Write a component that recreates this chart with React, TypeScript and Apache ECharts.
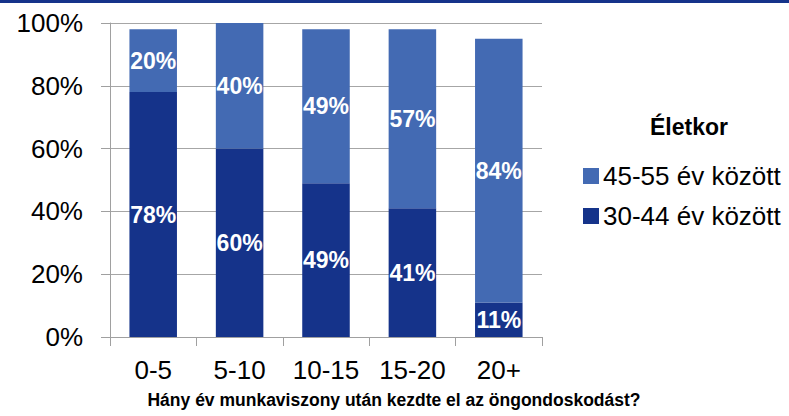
import React, { useEffect, useRef } from "react";
import * as echarts from "echarts";

const categories = ["0-5", "5-10", "10-15", "15-20", "20+"];
const seriesYoung = [78, 60, 49, 41, 11];
const seriesOld = [20, 40, 49, 57, 84];
const yTicks = [0, 20, 40, 60, 80, 100];
const legendTitle = "Életkor";
const nameYoung = "30-44 év között";
const nameOld = "45-55 év között";
const xTitle = "Hány év munkaviszony után kezdte el az öngondoskodást?";

const FONT = "'Liberation Sans', Arial, sans-serif";
const DARK = "#15338a";
const LIGHT = "#436ab3";

export default function App() {
  const ref = useRef<HTMLDivElement>(null);
  useEffect(() => {
    if (!ref.current) return;
    const chart = echarts.init(ref.current, null, { renderer: "svg" });
    const labelStyle = {
      show: true,
      position: "inside" as const,
      color: "#ffffff",
      fontFamily: FONT,
      fontWeight: "bold" as const,
      fontSize: 23,
      formatter: (p: any) => p.value + "%",
    };
    chart.setOption({
      animation: false,
      backgroundColor: "#ffffff",
      textStyle: { fontFamily: FONT },
      grid: { left: 110, top: 23, right: 247, bottom: 79, containLabel: false },
      xAxis: {
        type: "category",
        data: categories,
        axisLine: { show: true, lineStyle: { color: "#a0a0a0", width: 1 } },
        axisTick: { show: true, length: 9, lineStyle: { color: "#a0a0a0" } },
        axisLabel: {
          color: "#000",
          fontSize: 26,
          lineHeight: 26,
          fontFamily: FONT,
          margin: 20,
          interval: 0,
          hideOverlap: false,
        },
      },
      yAxis: {
        type: "value",
        min: 0,
        max: 100,
        interval: 20,
        axisLine: { show: true, lineStyle: { color: "#a0a0a0", width: 1 } },
        axisTick: { show: true, length: 9, lineStyle: { color: "#a0a0a0" } },
        splitLine: { show: true, lineStyle: { color: "#a6a6a6", width: 1 } },
        axisLabel: {
          color: "#000",
          fontSize: 26,
          fontFamily: FONT,
          margin: 27,
          formatter: (v: number) => (yTicks.includes(v) ? v + "%" : ""),
        },
      },
      legend: {
        orient: "vertical",
        left: 583,
        top: 163,
        padding: 0,
        itemWidth: 16,
        itemHeight: 16,
        itemGap: 14,
        icon: "rect",
        data: [nameOld, nameYoung],
        textStyle: { color: "#000", fontSize: 26, lineHeight: 26, fontFamily: FONT, padding: [0, 0, 0, -1] },
      },
      graphic: [
        { type: "rect", left: 0, top: 0, shape: { width: 789, height: 3 }, style: { fill: DARK } },
        {
          type: "text",
          x: 689,
          y: 127,
          style: {
            text: legendTitle,
            fontSize: 23,
            fontWeight: "bold",
            fontFamily: FONT,
            fill: "#000",
            align: "center",
            verticalAlign: "middle",
          },
        },
        {
          type: "text",
          x: 394,
          y: 400,
          style: {
            text: xTitle,
            fontSize: 17.5,
            fontWeight: "bold",
            fontFamily: FONT,
            fill: "#000",
            align: "center",
            verticalAlign: "middle",
          },
        },
      ],
      series: [
        {
          name: nameYoung,
          type: "bar",
          stack: "total",
          data: seriesYoung,
          barWidth: "55%",
          itemStyle: { color: DARK },
          label: labelStyle,
        },
        {
          name: nameOld,
          type: "bar",
          stack: "total",
          data: seriesOld,
          barWidth: "55%",
          itemStyle: { color: LIGHT },
          label: labelStyle,
        },
      ],
    });
    return () => chart.dispose();
  }, []);
  return <div ref={ref} style={{ width: 789, height: 416, position: "absolute", left: 0, top: 0 }} />;
}
